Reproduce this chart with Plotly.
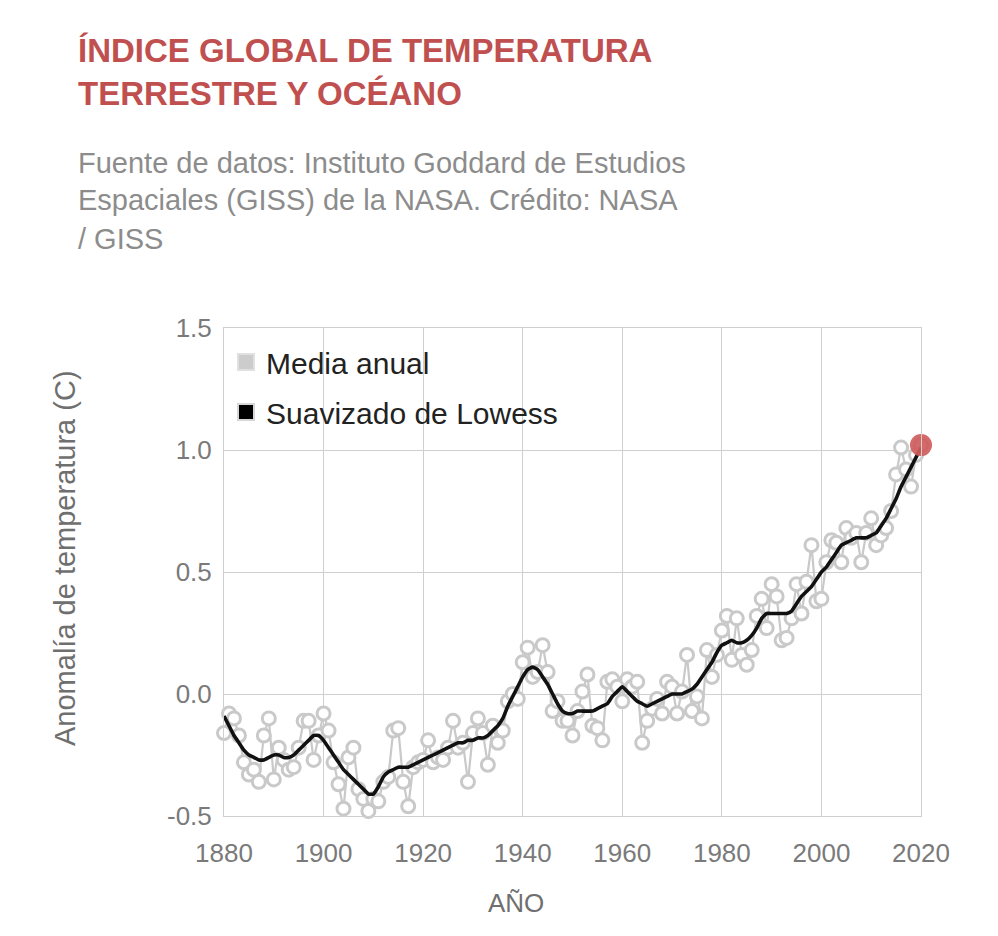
import plotly.graph_objects as go

# ---------------- data ----------------
years = list(range(1880, 2021))

annual_mean = [
    -0.16, -0.08, -0.10, -0.17, -0.28, -0.33, -0.31, -0.36, -0.17, -0.10,
    -0.35, -0.22, -0.27, -0.31, -0.30, -0.22, -0.11, -0.11, -0.27, -0.17,
    -0.08, -0.15, -0.28, -0.37, -0.47, -0.26, -0.22, -0.39, -0.43, -0.48,
    -0.43, -0.44, -0.36, -0.34, -0.15, -0.14, -0.36, -0.46, -0.30, -0.28,
    -0.27, -0.19, -0.28, -0.26, -0.27, -0.22, -0.11, -0.22, -0.20, -0.36,
    -0.16, -0.10, -0.16, -0.29, -0.13, -0.20, -0.15, -0.03, -0.00, -0.02,
    0.13, 0.19, 0.07, 0.09, 0.20, 0.09, -0.07, -0.03, -0.11, -0.11,
    -0.17, -0.07, 0.01, 0.08, -0.13, -0.14, -0.19, 0.05, 0.06, 0.03,
    -0.03, 0.06, 0.03, 0.05, -0.20, -0.11, -0.06, -0.02, -0.08, 0.05,
    0.03, -0.08, 0.01, 0.16, -0.07, -0.01, -0.10, 0.18, 0.07, 0.16,
    0.26, 0.32, 0.14, 0.31, 0.16, 0.12, 0.18, 0.32, 0.39, 0.27,
    0.45, 0.40, 0.22, 0.23, 0.31, 0.45, 0.33, 0.46, 0.61, 0.38,
    0.39, 0.54, 0.63, 0.62, 0.54, 0.68, 0.64, 0.66, 0.54, 0.66,
    0.72, 0.61, 0.65, 0.68, 0.75, 0.90, 1.01, 0.92, 0.85, 0.98,
    1.02,
]

lowess_smooth = [
    -0.09, -0.13, -0.17, -0.20, -0.23, -0.25, -0.26, -0.27, -0.27, -0.26,
    -0.25, -0.25, -0.26, -0.26, -0.25, -0.23, -0.21, -0.19, -0.17, -0.17,
    -0.19, -0.22, -0.25, -0.28, -0.31, -0.33, -0.35, -0.37, -0.39, -0.41,
    -0.41, -0.38, -0.34, -0.32, -0.31, -0.30, -0.30, -0.30, -0.29, -0.28,
    -0.27, -0.26, -0.25, -0.24, -0.23, -0.22, -0.21, -0.20, -0.20, -0.19,
    -0.19, -0.18, -0.18, -0.17, -0.15, -0.13, -0.10, -0.05, -0.01, 0.03,
    0.07, 0.10, 0.11, 0.10, 0.07, 0.04, 0.00, -0.04, -0.07, -0.08,
    -0.08, -0.07, -0.07, -0.07, -0.07, -0.06, -0.05, -0.04, -0.01, 0.01,
    0.03, 0.01, -0.01, -0.03, -0.04, -0.05, -0.04, -0.03, -0.02, -0.01,
    0.00, 0.00, 0.00, 0.01, 0.02, 0.04, 0.07, 0.10, 0.13, 0.17,
    0.20, 0.21, 0.22, 0.21, 0.21, 0.22, 0.24, 0.27, 0.31, 0.33,
    0.33, 0.33, 0.33, 0.33, 0.34, 0.37, 0.40, 0.42, 0.44, 0.47,
    0.50, 0.52, 0.55, 0.58, 0.61, 0.62, 0.63, 0.64, 0.64, 0.64,
    0.65, 0.66, 0.69, 0.72, 0.76, 0.80, 0.85, 0.89, 0.93, 0.97,
    1.01,
]

x_ticks = [1880, 1900, 1920, 1940, 1960, 1980, 2000, 2020]
y_ticks = [-0.5, 0.0, 0.5, 1.0, 1.5]
y_tick_labels = ["-0.5", "0.0", "0.5", "1.0", "1.5"]

title_lines = ["ÍNDICE GLOBAL DE TEMPERATURA", "TERRESTRE Y OCÉANO"]
subtitle_lines = [
    "Fuente de datos: Instituto Goddard de Estudios",
    "Espaciales (GISS) de la NASA. Crédito: NASA",
    "/ GISS",
]
x_title = "AÑO"
y_title = "Anomalía de temperatura (C)"

# ---------------- layout geometry ----------------
# page body adds an 8px offset; figure coordinates = page coordinates - 8
OFF = 8
W, H = 990, 928
L, R, T, B = 224 - OFF, 921 - OFF, 328 - OFF, 816 - OFF
PW, PH = R - L, B - T


def xp(page_px):
    return (page_px - OFF - L) / PW


def yp(page_py):
    return (B - (page_py - OFF)) / PH


FONT = "Liberation Sans, Arial, Helvetica, sans-serif"
GRAY_MARK = "#c9c9c9"
TITLE_RED = "#c0504f"

fig = go.Figure()

# annual mean: gray line + open circles
fig.add_trace(go.Scatter(
    x=years, y=annual_mean,
    mode="lines+markers",
    line=dict(color=GRAY_MARK, width=2.2),
    marker=dict(symbol="circle", size=13, color="white",
                line=dict(color=GRAY_MARK, width=3)),
    showlegend=False, cliponaxis=False,
))

# lowess smoothing
fig.add_trace(go.Scatter(
    x=years, y=lowess_smooth, mode="lines",
    line=dict(color="#111111", width=3.6, shape="spline", smoothing=0.4),
    showlegend=False, cliponaxis=False,
))

# latest year highlighted
fig.add_trace(go.Scatter(
    x=[years[-1]], y=[annual_mean[-1]], mode="markers",
    marker=dict(size=22, color="rgba(208,92,92,0.92)"),
    showlegend=False, cliponaxis=False,
))

# legend entries
fig.add_trace(go.Scatter(
    x=[None], y=[None], mode="markers", name="Media anual",
    legendgroup="a",
    marker=dict(symbol="square", size=16, color="#cccccc",
                line=dict(color="#e0e0e0", width=2)),
))
fig.add_trace(go.Scatter(
    x=[None], y=[None], mode="markers", name="Suavizado de Lowess",
    legendgroup="b",
    marker=dict(symbol="square", size=16, color="#000000",
                line=dict(color="#d6d6d6", width=2)),
))

annotations = [dict(
    text="<br>".join(f"<b>{t}</b>" for t in title_lines),
    x=xp(76), y=yp(72), xref="paper", yref="paper",
    xanchor="left", yanchor="middle", align="left", showarrow=False,
    font=dict(family=FONT, size=33, color=TITLE_RED),
)]
sub_y = [163, 200, 239]
for txt, cy in zip(subtitle_lines, sub_y):
    annotations.append(dict(
        text=txt, x=xp(76), y=yp(cy), xref="paper", yref="paper",
        xanchor="left", yanchor="middle", showarrow=False,
        font=dict(family=FONT, size=29, color="#8c8c8c"),
    ))
annotations.append(dict(
    text=x_title, x=xp(516), y=yp(903), xref="paper", yref="paper",
    xanchor="center", yanchor="middle", showarrow=False,
    font=dict(family=FONT, size=26, color="#6f6f6f"),
))
annotations.append(dict(
    text=y_title, x=xp(65), y=yp(558), xref="paper", yref="paper",
    xanchor="center", yanchor="middle", textangle=-90, showarrow=False,
    font=dict(family=FONT, size=29, color="#6f6f6f"),
))

fig.update_layout(
    width=W, height=H,
    margin=dict(l=L, r=W - R, t=T, b=H - B, autoexpand=False),
    paper_bgcolor="white",
    plot_bgcolor="white",
    font=dict(family=FONT, color="#777777"),
    showlegend=True,
    legend=dict(
        x=xp(226), y=yp(336), xanchor="left", yanchor="top",
        bgcolor="rgba(255,255,255,0)", borderwidth=0,
        font=dict(family=FONT, size=30, color="#222222"),
        tracegroupgap=8, traceorder="grouped",
        itemsizing="trace",
    ),
    annotations=annotations,
    xaxis=dict(
        range=[1880, 2020], tickmode="array", tickvals=x_ticks,
        showgrid=True, gridcolor="#cfcfcf", gridwidth=1,
        showline=True, linecolor="#cfcfcf", linewidth=1, mirror=True,
        zeroline=False, ticks="", ticklabelstandoff=14,
        tickfont=dict(family=FONT, size=26, color="#7a7a7a"),
        automargin=False, fixedrange=True,
    ),
    yaxis=dict(
        range=[-0.5, 1.5], tickmode="array", tickvals=y_ticks,
        ticktext=y_tick_labels,
        showgrid=True, gridcolor="#cfcfcf", gridwidth=1,
        showline=True, linecolor="#cfcfcf", linewidth=1, mirror=True,
        zeroline=False, ticks="", ticklabelstandoff=6,
        tickfont=dict(family=FONT, size=26, color="#7a7a7a"),
        automargin=False, fixedrange=True,
    ),
)

fig.write_html("out.html")
